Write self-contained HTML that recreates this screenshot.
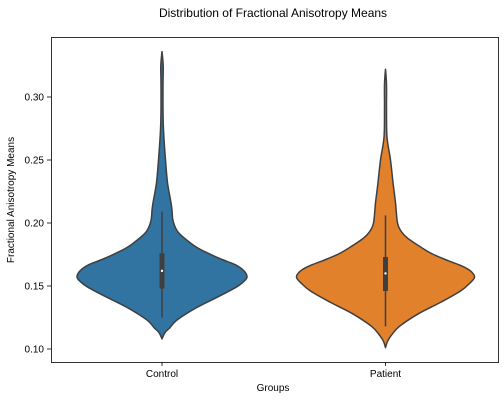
<!DOCTYPE html>
<html><head><meta charset="utf-8"><style>
body{margin:0;background:#fff;}
svg{display:block;font-family:"Liberation Sans",sans-serif;}
</style></head><body>
<svg id="chart" width="504" height="401" viewBox="0 0 504 401" xmlns="http://www.w3.org/2000/svg">
<text x="273" y="17" font-size="12" text-anchor="middle">Distribution of Fractional Anisotropy Means</text>
<g id="plot"></g>
<rect x="51.5" y="37.5" width="447" height="325" fill="none" stroke="#000" stroke-width="0.8"/>
<text x="273" y="391" font-size="10" text-anchor="middle">Groups</text>
<text transform="translate(14,200) rotate(-90)" font-size="10" text-anchor="middle">Fractional Anisotropy Means</text>
</svg>
<script>
const categories=["Control","Patient"];
const colors=["#3274a1","#e1812c"];
const yTicks=[0.10,0.15,0.20,0.25,0.30];
const controlVals=[0.108,0.113,0.117,0.123,0.133,0.141,0.149,0.153,0.157,0.162,0.167,0.171,0.176,0.181,0.189,0.194,0.202,0.21,0.216,0.232,0.25,0.274,0.29,0.31,0.325,0.336];
const controlHalf=[0,3,8,15,35,55,74,81,85,82,73,60,46,34,21,15,11,10,9,5.5,3.5,1.5,1,1,1.2,0];
const patientVals=[0.101,0.106,0.111,0.118,0.128,0.137,0.146,0.152,0.157,0.162,0.166,0.17,0.175,0.18,0.188,0.193,0.2,0.216,0.232,0.25,0.268,0.29,0.31,0.322];
const patientHalf=[0,2,6,14,33,55,75,84,89,85,76,63,48,37,22,16,12,10,7.5,5,1.5,1,1,0];
const boxQ1=[0.148,0.146],boxQ3=[0.176,0.173],boxMed=[0.162,0.160],whLo=[0.125,0.118],whHi=[0.209,0.206];
const NS="http://www.w3.org/2000/svg";
const g=document.getElementById('plot');
const yS=v=>349-(v-0.10)*1260;
const xS=i=>162+i*223.5;
function mk(t,a){const e=document.createElementNS(NS,t);for(const k in a)e.setAttribute(k,a[k]);return e;}
function cr(pts){let d="M"+pts[0][0].toFixed(1)+","+pts[0][1].toFixed(1);
 for(let i=0;i<pts.length-1;i++){const p0=pts[Math.max(0,i-1)],p1=pts[i],p2=pts[i+1],p3=pts[Math.min(pts.length-1,i+2)];
  const c1=[p1[0]+(p2[0]-p0[0])/6,p1[1]+(p2[1]-p0[1])/6],c2=[p2[0]-(p3[0]-p1[0])/6,p2[1]-(p3[1]-p1[1])/6];
  d+=" C"+c1[0].toFixed(1)+","+c1[1].toFixed(1)+" "+c2[0].toFixed(1)+","+c2[1].toFixed(1)+" "+p2[0].toFixed(1)+","+p2[1].toFixed(1);}
 return d;}
[[controlVals,controlHalf],[patientVals,patientHalf]].forEach((s,i)=>{
 const cx=xS(i);
 const right=s[0].map((v,j)=>[cx+s[1][j],yS(v)]);
 const left=s[0].map((v,j)=>[cx-s[1][j],yS(v)]).reverse();
 const d=cr(right)+" "+cr(left).replace(/^M/,"L")+" Z";
 const p=mk('path',{d:d,fill:colors[i],stroke:'#3f3f3f','stroke-width':1.5,'stroke-linejoin':'round'});
 
 
 g.appendChild(p);
 const w=mk('line',{x1:cx,x2:cx,y1:yS(whHi[i]),y2:yS(whLo[i]),stroke:'#3f3f3f','stroke-width':1.5});
 
 
 g.appendChild(w);
 const b=mk('rect',{x:cx-2.5,y:yS(boxQ3[i]),width:5,height:yS(boxQ1[i])-yS(boxQ3[i]),fill:'#3f3f3f'});
 
 
 g.appendChild(b);
 const m=mk('circle',{cx:cx,cy:yS(boxMed[i]),r:1.2,fill:'#fff'});
 
 
 g.appendChild(m);
 const tk=mk('line',{x1:cx,x2:cx,y1:362,y2:366,stroke:'#000','stroke-width':0.8});
 
 
 g.appendChild(tk);
 const t=mk('text',{x:cx,y:377,'font-size':10,'text-anchor':'middle'});t.textContent=categories[i];
 
 
 g.appendChild(t);
});
yTicks.forEach(v=>{
 const y=yS(v);
 const l=mk('line',{x1:47,x2:51,y1:y,y2:y,stroke:'#000','stroke-width':0.8});
 
 
 g.appendChild(l);
 const t=mk('text',{x:44,y:y+3.5,'font-size':10,'text-anchor':'end'});t.textContent=v.toFixed(2);
 
 
 g.appendChild(t);
});
</script>
</body></html>
